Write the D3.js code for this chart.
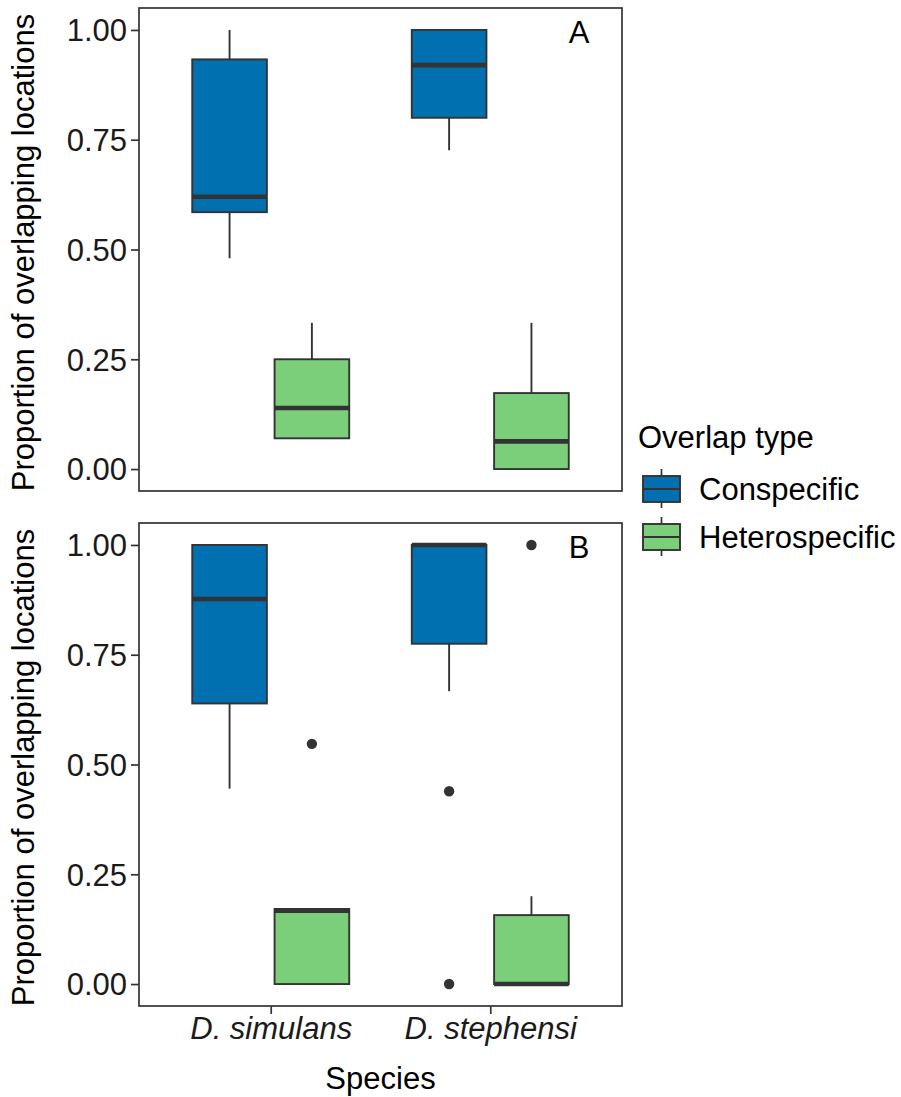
<!DOCTYPE html>
<html>
<head>
<meta charset="utf-8">
<script src="https://cdn.jsdelivr.net/npm/d3@7"></script>
<style>
  html, body { margin: 0; padding: 0; background: #fff; }
  svg { display: block; font-family: "Liberation Sans", Arial, sans-serif; }
</style>
</head>
<body>
<svg id="chart" width="901" height="1097"></svg>
<script>
// Categories and groups
const species = ["D. simulans", "D. stephensi"];
const overlapTypes = ["Conspecific", "Heterospecific"];
const yTicks = [0, 0.25, 0.5, 0.75, 1.0];
const panelLabels = ["A", "B"];

// Box statistics per species: [lower whisker, Q1, median, Q3, upper whisker]
const panelAConspecific   = [[0.48, 0.585, 0.62, 0.933, 1.0], [0.726, 0.80, 0.92, 1.0, 1.0]];
const panelAHeterospecific = [[0.07, 0.07, 0.139, 0.25, 0.333], [0.0, 0.0, 0.063, 0.173, 0.333]];
const panelBConspecific   = [[0.445, 0.639, 0.877, 1.0, 1.0], [0.667, 0.775, 1.0, 1.0, 1.0]];
const panelBHeterospecific = [[0.0, 0.0, 0.167, 0.171, 0.171], [0.0, 0.0, 0.0, 0.157, 0.2]];

// Outlying points per species
const panelAConspecificOut   = [[], []];
const panelAHeterospecificOut = [[], []];
const panelBConspecificOut   = [[], [0.439, 0.0]];
const panelBHeterospecificOut = [[0.547], [1.0]];

const colors = { Conspecific: "#0070B0", Heterospecific: "#7BCF7B" };
const ink = "#333333";
const font = '"Liberation Sans", Arial, sans-serif';
const fs = "31px";

const svg = d3.select("#chart");

const left = 139, right = 622;
const panels = [
  { top: 8, bottom: 491, label: panelLabels[0],
    stats: { Conspecific: panelAConspecific, Heterospecific: panelAHeterospecific },
    out: { Conspecific: panelAConspecificOut, Heterospecific: panelAHeterospecificOut } },
  { top: 523, bottom: 1006, label: panelLabels[1],
    stats: { Conspecific: panelBConspecific, Heterospecific: panelBHeterospecific },
    out: { Conspecific: panelBConspecificOut, Heterospecific: panelBHeterospecificOut } }
];

// Discrete x positions 1..n with 0.6 expansion each side
const x = d3.scaleLinear().domain([0.4, species.length + 0.6]).range([left, right]);
const dodge = 0.1875;      // half of a dodged slot
const boxHalf = 0.17;      // half box width in category units

panels.forEach((p, pi) => {
  const span = p.bottom - p.top;
  // 1.00 and 0.00 sit inside the panel with 5% padding
  const y = d3.scaleLinear().domain([-0.05, 1.05]).range([p.bottom, p.top]);
  const g = svg.append("g");

  // y axis
  const yAxis = d3.axisLeft(y).tickValues(yTicks).tickFormat(d3.format(".2f")).tickSize(8).tickPadding(4);
  const ya = g.append("g").attr("transform", `translate(${left},0)`).call(yAxis);
  ya.select(".domain").remove();
  ya.selectAll(".tick line").attr("stroke", ink).attr("stroke-width", 1.7);
  ya.selectAll(".tick text").attr("fill", "#1a1a1a").style("font-size", fs).style("font-family", font)
    .attr("dy", "0.35em");

  // boxes
  overlapTypes.forEach((t, ti) => {
    const off = ti === 0 ? -dodge : dodge;
    species.forEach((s, si) => {
      const [lo, q1, med, q3, hi] = p.stats[t][si];
      const cx = si + 1 + off;
      const bx = g.append("g");
      bx.append("line").attr("x1", x(cx)).attr("x2", x(cx)).attr("y1", y(hi)).attr("y2", y(q3))
        .attr("stroke", ink).attr("stroke-width", 1.9);
      bx.append("line").attr("x1", x(cx)).attr("x2", x(cx)).attr("y1", y(q1)).attr("y2", y(lo))
        .attr("stroke", ink).attr("stroke-width", 1.9);
      bx.append("rect").attr("x", x(cx - boxHalf)).attr("width", x(cx + boxHalf) - x(cx - boxHalf))
        .attr("y", y(q3)).attr("height", Math.max(0, y(q1) - y(q3)))
        .attr("fill", colors[t]).attr("stroke", ink).attr("stroke-width", 1.9);
      bx.append("line").attr("x1", x(cx - boxHalf)).attr("x2", x(cx + boxHalf))
        .attr("y1", y(med)).attr("y2", y(med)).attr("stroke", ink).attr("stroke-width", 4.6);
      p.out[t][si].forEach(v => {
        bx.append("circle").attr("cx", x(cx)).attr("cy", y(v)).attr("r", 5.2).attr("fill", ink);
      });
    });
  });

  // panel border
  g.append("rect").attr("x", left).attr("y", p.top).attr("width", right - left).attr("height", span)
    .attr("fill", "none").attr("stroke", ink).attr("stroke-width", 1.7);

  // panel letter
  g.append("text").attr("x", 579).attr("y", p.top + 35).attr("text-anchor", "middle")
    .style("font-size", fs).attr("fill", "#000").text(p.label);

  // y title
  g.append("text")
    .attr("transform", `translate(34,${(p.top + p.bottom) / 2 + 3}) rotate(-90)`)
    .attr("text-anchor", "middle").style("font-size", fs).attr("fill", "#000")
    .text("Proportion of overlapping locations");

  // x axis on the bottom panel
  if (pi === panels.length - 1) {
    const xAxis = d3.axisBottom(x).tickValues(species.map((_, i) => i + 1))
      .tickFormat((d) => species[d - 1]).tickSize(8).tickPadding(3);
    const xa = g.append("g").attr("transform", `translate(0,${p.bottom})`).call(xAxis);
    xa.select(".domain").remove();
    xa.selectAll(".tick line").attr("stroke", ink).attr("stroke-width", 1.7);
    xa.selectAll(".tick text").attr("fill", "#1a1a1a").style("font-size", fs)
      .style("font-family", font).style("font-style", "italic");
    svg.append("text").attr("x", (left + right) / 2).attr("y", 1089).attr("text-anchor", "middle")
      .style("font-size", fs).attr("fill", "#000").text("Species");
  }
});

// Legend
const lg = svg.append("g");
lg.append("text").attr("x", 638).attr("y", 448).style("font-size", fs).attr("fill", "#000").text("Overlap type");
overlapTypes.forEach((t, i) => {
  const cy = 489 + i * 48;
  const kx = 643, kw = 37, kh = 26;
  lg.append("line").attr("x1", kx + kw / 2).attr("x2", kx + kw / 2).attr("y1", cy - 20).attr("y2", cy + 19)
    .attr("stroke", ink).attr("stroke-width", 1.7);
  lg.append("rect").attr("x", kx).attr("y", cy - kh / 2).attr("width", kw).attr("height", kh)
    .attr("fill", colors[t]).attr("stroke", ink).attr("stroke-width", 1.9);
  lg.append("line").attr("x1", kx).attr("x2", kx + kw).attr("y1", cy).attr("y2", cy)
    .attr("stroke", ink).attr("stroke-width", 2.2);
  lg.append("text").attr("x", 699).attr("y", cy + 11).style("font-size", fs).attr("fill", "#000").text(t);
});
</script>
</body>
</html>
